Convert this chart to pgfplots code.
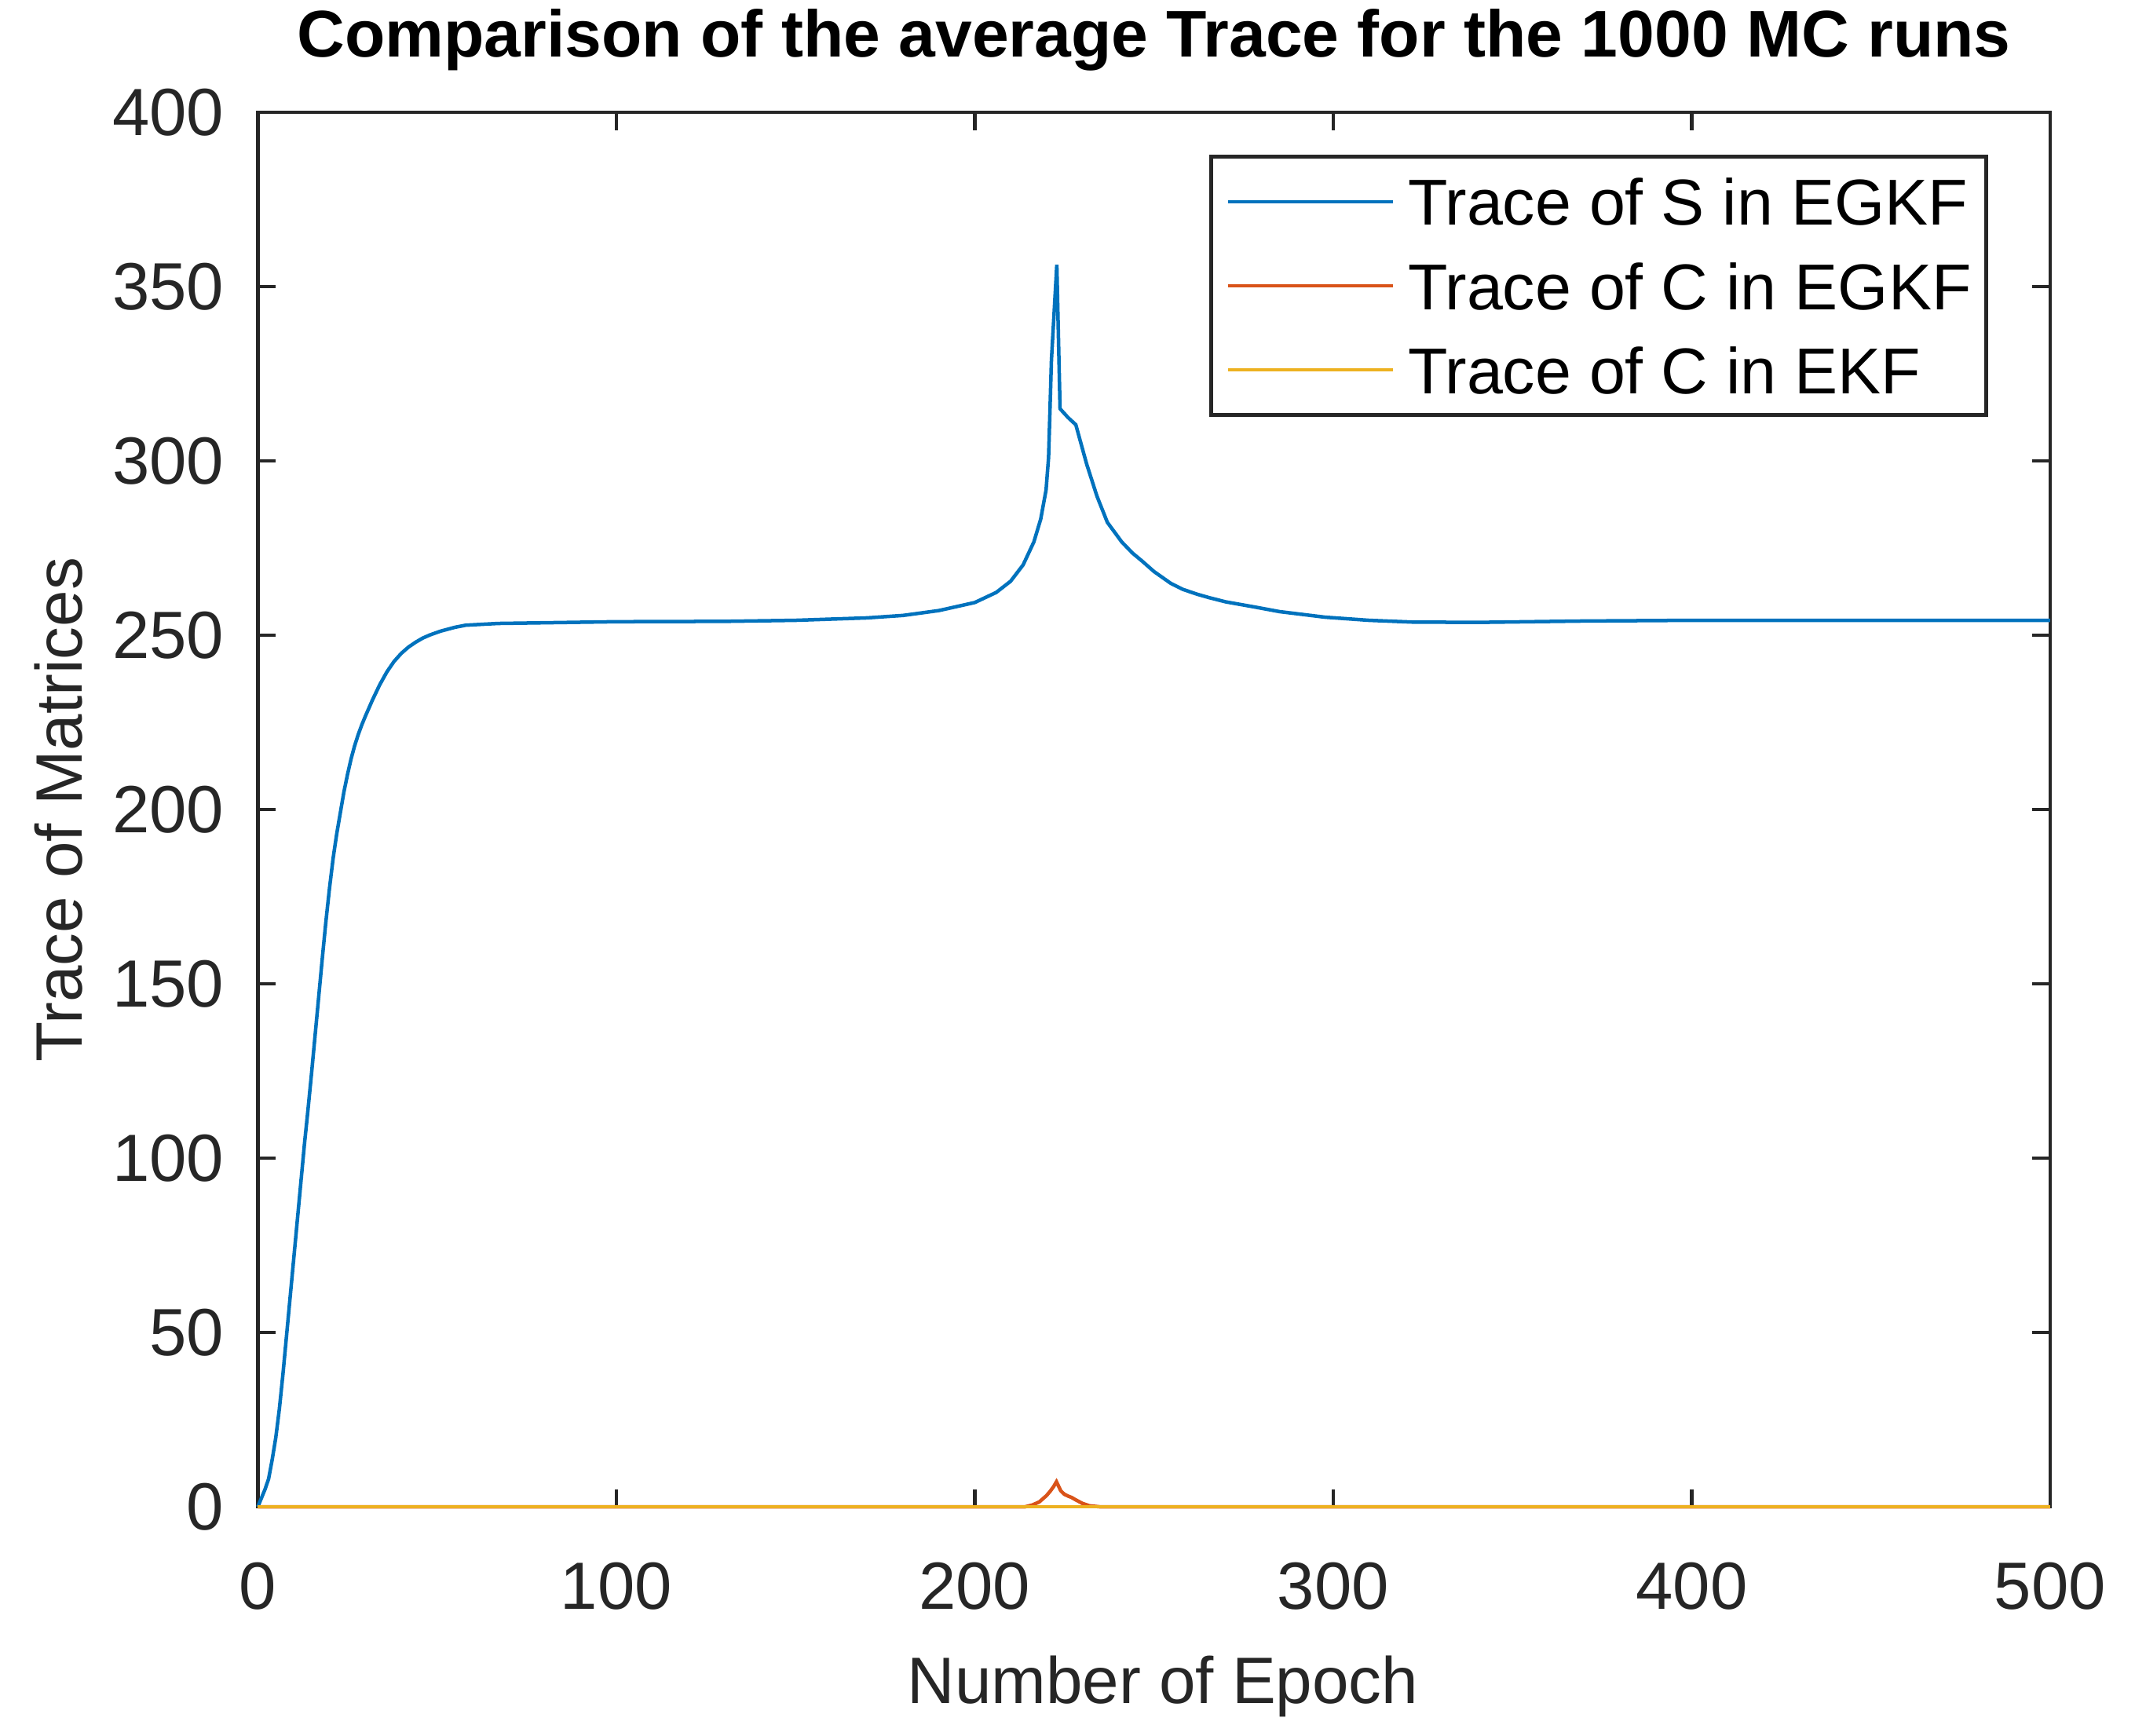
\documentclass[border=0pt]{standalone}
\usepackage{fontspec}
\setmainfont{Liberation Sans}
\usepackage{pgfplots}
\pgfplotsset{compat=1.18}
\definecolor{mblue}{rgb}{0,0.447,0.741}
\definecolor{mred}{rgb}{0.85,0.325,0.098}
\definecolor{myellow}{rgb}{0.929,0.694,0.125}
\definecolor{axgray}{rgb}{0.15,0.15,0.15}
\begin{document}
\begin{tikzpicture}
\path[use as bounding box] (-65.6pt,-58.2pt) rectangle (477.6pt,383.4pt);
\begin{axis}[
  at={(0,0)}, anchor=south west,
  scale only axis, width=456pt, height=354.8pt,
  xmin=0, xmax=500, ymin=0, ymax=400,
  xtick={0,100,...,500}, ytick={0,50,...,400},
  clip=false,
  axis line style={axgray, line width=0.9pt},
  tick style={axgray, line width=0.9pt},
  major tick length=4.5pt, tick align=inside,
  tick label style={font=\fontsize{17}{20}\selectfont, text=axgray, /pgf/number format/assume math mode=true},
  xticklabel style={anchor=base, yshift=-26pt, inner sep=0pt},
  yticklabel style={anchor=east, xshift=-8.4pt, inner sep=0pt},
  title={Comparison of the average Trace for the 1000 MC runs},
  title style={at={(0.5,1.0226)}, anchor=base, inner sep=0pt, font=\bfseries\fontsize{16.8}{20}\selectfont},
  xlabel={Number of Epoch},
  xlabel style={at={(axis description cs:0.505,-0.1409)}, anchor=base, inner sep=0pt, text=axgray, font=\fontsize{16.7}{20}\selectfont},
  ylabel={Trace of Matrices},
  ylabel style={at={(axis description cs:-0.0982,0.5)}, anchor=base, inner sep=0pt, text=axgray, font=\fontsize{16.7}{20}\selectfont},
  legend style={at={(0.9653,0.9696)}, anchor=north east, draw=axgray, line width=0.9pt, fill=white,
    font=\fontsize{16.5}{19.8}\selectfont, inner xsep=3.75pt, inner ysep=5.5pt,
    row sep=9.4pt, column sep=3.4pt,
    nodes={inner sep=0pt, text height=12pt, text depth=0pt}},
  legend cell align=left,
  legend image code/.code={\draw[#1] (0pt,0pt) -- (42pt,0pt);},
]
\addplot[mblue, line width=0.9pt] coordinates {
(0,0) (1,2.5) (2,5) (3,8) (4,13.5) (5,19.8) (6,28) (7,38) (8,49) (9,60) (10,71)
(11,82) (12,93) (13,104) (14,114) (15,124.5) (16,135.5) (17,146.5) (18,157.5) (19,168) (20,177.5)
(21,186) (22,193) (23,199) (24,205) (25,210) (26,214.5) (27,218.3) (28,221.5) (29,224.3) (30,226.8)
(32,231.5) (34,235.8) (36,239.5) (38,242.5) (40,244.8) (42,246.6) (44,248) (46,249.2) (48,250.1) (51,251.2)
(55,252.3) (58,252.9) (67,253.4) (100,253.9) (130,254) (150,254.3) (170,255) (180,255.7)
(190,257.1) (200,259.4) (206,262.3) (210,265.5) (213.5,270.2) (216.5,276.8) (218.4,283.3)
(219.9,291.7) (220.6,301) (221.4,329) (222.9,356.3) (223.8,315) (226,312.5) (228.2,310.4)
(231.2,299.2) (234.1,289.9) (237,282.4) (241,276.8) (244,273.6) (246.8,271.2) (250,268.3)
(254.7,264.9) (258,263.2) (262,261.8) (265.4,260.8) (270,259.6) (278.2,258.1) (285,256.8)
(297.7,255.2) (310,254.3) (322,253.8) (340,253.7) (370,254.1) (400,254.3)
(450,254.3) (500,254.3)
};
\addlegendentry{Trace of S in EGKF}
\addplot[mred, line width=0.9pt] coordinates {
(0,0) (214,0) (216,0.5) (218,1.4) (220,3.2) (221,4.4) (222,5.8) (222.8,7.2) (224,4.6)
(225,3.6) (226,3.1) (227,2.7) (228,2.1) (230,1) (232,0.3) (235,0) (500,0)
};
\addlegendentry{Trace of C in EGKF}
\addplot[myellow, line width=0.9pt] coordinates {
(0,0) (100,0) (200,0) (300,0) (400,0) (500,0)
};
\addlegendentry{Trace of C in EKF}
\end{axis}
\end{tikzpicture}
\end{document}
